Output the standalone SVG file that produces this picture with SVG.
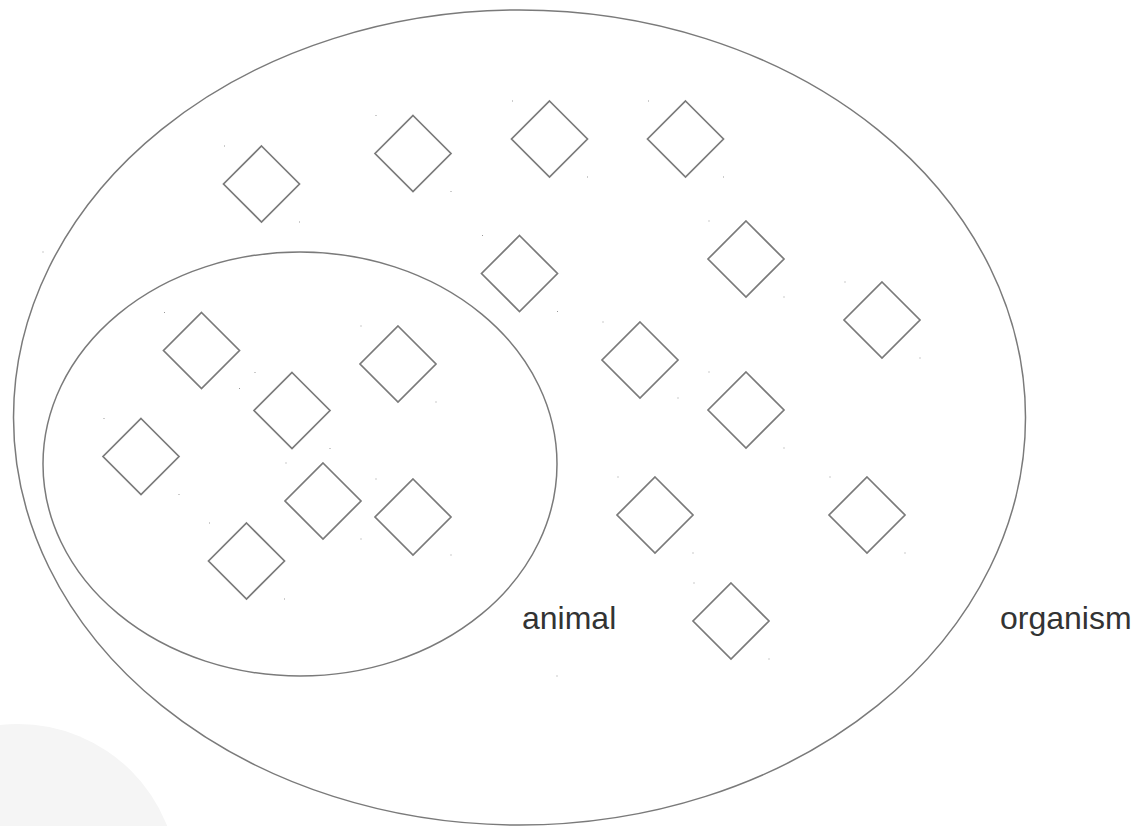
<svg xmlns="http://www.w3.org/2000/svg" width="1134" height="826" viewBox="0 0 1134 826">
<style>
.set{fill:none;stroke:#7a7a7a;stroke-width:1.5}
.item{fill:#fff;stroke:#7a7a7a;stroke-width:1.7}
.dot{fill:#999}
.lbl{font-family:"Liberation Sans",Arial,sans-serif;font-size:32px;fill:#333}
</style>
<defs>
<g id="d">
<polygon class="item" points="0,-38 38,0 0,38 -38,0"/>
<rect class="dot" x="-37.5" y="-38.5" width="1" height="1"/>
<rect class="dot" x="37.5" y="37.5" width="1" height="1"/>
</g>
</defs>
<rect width="1134" height="826" fill="#fff"/>
<circle cx="18" cy="884" r="160" fill="#f5f5f5"/>
<g id="organism">
<ellipse class="set" cx="519.5" cy="417.5" rx="506" ry="407.5"/>
<text class="lbl" x="1000" y="629">organism</text>
</g>
<g id="animal">
<ellipse class="set" cx="300" cy="464" rx="257" ry="212"/>
<rect class="dot" x="42.5" y="251.5" width="1" height="1"/>
<rect class="dot" x="556.5" y="675.5" width="1" height="1"/>
<text class="lbl" x="522" y="629">animal</text>
</g>
<g id="n1"><use href="#d" x="261.5" y="184"/></g>
<g id="n2"><use href="#d" x="413" y="153.5"/></g>
<g id="n3"><use href="#d" x="549.5" y="139"/></g>
<g id="n4"><use href="#d" x="685.5" y="139"/></g>
<g id="n5"><use href="#d" x="519.5" y="273.5"/></g>
<g id="n6"><use href="#d" x="746" y="259"/></g>
<g id="n7"><use href="#d" x="882" y="320"/></g>
<g id="n8"><use href="#d" x="201.5" y="350.5"/></g>
<g id="n9"><use href="#d" x="398" y="364"/></g>
<g id="n10"><use href="#d" x="292" y="410.5"/></g>
<g id="n11"><use href="#d" x="141" y="456.5"/></g>
<g id="n12"><use href="#d" x="323" y="501"/></g>
<g id="n13"><use href="#d" x="413" y="517"/></g>
<g id="n14"><use href="#d" x="246.5" y="561"/></g>
<g id="n15"><use href="#d" x="640" y="360"/></g>
<g id="n16"><use href="#d" x="746" y="410"/></g>
<g id="n17"><use href="#d" x="655" y="515"/></g>
<g id="n18"><use href="#d" x="867" y="515"/></g>
<g id="n19"><use href="#d" x="731" y="621"/></g>
<g id="connectors"></g>
</svg>
